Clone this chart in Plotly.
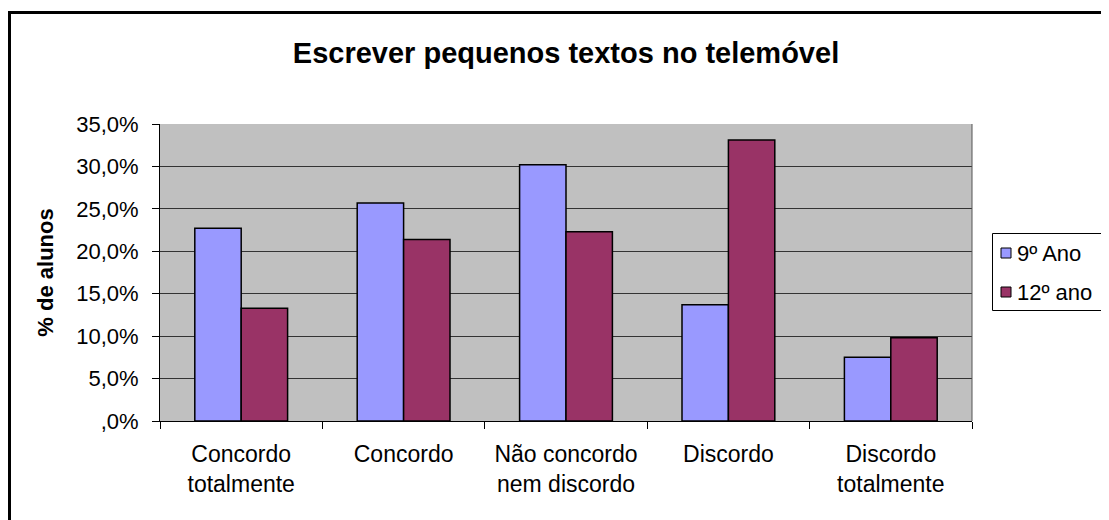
import plotly.graph_objects as go

categories = ["Concordo<br>totalmente", "Concordo", "Não concordo<br>nem discordo", "Discordo", "Discordo<br>totalmente"]
ano9 = [22.7, 25.7, 30.2, 13.7, 7.5]
ano12 = [13.3, 21.4, 22.3, 33.1, 9.8]
series_names = ["9º Ano", "12º ano"]
series_colors = ["#9999FF", "#993366"]
tick_vals = [0, 5, 10, 15, 20, 25, 30, 35]
tick_text = [",0%", "5,0%", "10,0%", "15,0%", "20,0%", "25,0%", "30,0%", "35,0%"]

FONT = "Liberation Sans, Arial, sans-serif"

# the page body has an 8px margin; the figure is sized to fill the rest of the window
OFF = 8
PAGE_W, PAGE_H = 1109, 520
W, H = PAGE_W - OFF, PAGE_H - OFF
# plot area in page pixels: x 160..972, y 124..421
L, T = 160 - OFF, 124 - OFF
R, B = PAGE_W - 972, PAGE_H - 421
pw, ph = W - L - R, H - T - B

def px_to_paper_x(px):
    return (px - OFF - L) / pw

def px_to_paper_y(py):
    return (H - B - (py - OFF)) / ph

fig = go.Figure()
for name, vals, col in zip(series_names, [ano9, ano12], series_colors):
    fig.add_trace(go.Bar(x=categories, y=vals, name=name, showlegend=False,
                         marker=dict(color=col, line=dict(color="#000000", width=1.5))))

fig.update_layout(
    width=W, height=H,
    margin=dict(l=L, r=R, t=T, b=B, autoexpand=False),
    paper_bgcolor="#FFFFFF",
    plot_bgcolor="#C0C0C0",
    barmode="group",
    bargap=0.4286,
    bargroupgap=0,
    font=dict(family=FONT, size=22, color="#000000"),
    title=dict(text="<b>Escrever pequenos textos no telemóvel</b>",
               x=(566 - OFF) / W, xref="container", xanchor="center",
               y=1 - (53 - OFF) / H, yref="container", yanchor="middle",
               font=dict(family=FONT, size=29, color="#000000")),
    showlegend=False,
    xaxis=dict(type="category", showline=True, linecolor="#000000", linewidth=1,
               ticks="outside", ticklen=7, tickcolor="#000000", tickson="boundaries",
               tickfont=dict(family=FONT, size=23), showgrid=False,
               ticklabelstandoff=12),
    yaxis=dict(range=[0, 35], tickvals=tick_vals, ticktext=tick_text,
               showline=True, linecolor="#000000", linewidth=1,
               ticks="outside", ticklen=7, tickcolor="#000000",
               showgrid=True, gridcolor="#333333", gridwidth=1,
               zeroline=False, ticklabelstandoff=9,
               tickfont=dict(family=FONT, size=22),
               title=dict(text="<b>% de alunos</b>", font=dict(family=FONT, size=22), standoff=16)),
)

# plot area right border
fig.add_shape(type="line", xref="paper", yref="paper", x0=1, x1=1, y0=0, y1=1,
              line=dict(color="#555555", width=1))
# outer chart border (extends beyond the visible window on the right and bottom)
fig.add_shape(type="rect", xref="paper", yref="paper",
              x0=px_to_paper_x(9.5), x1=px_to_paper_x(1130),
              y0=px_to_paper_y(540), y1=px_to_paper_y(12.5),
              line=dict(color="#000000", width=3), fillcolor="rgba(0,0,0,0)", layer="above")

# legend box (extends past the right edge of the window, as in the original)
fig.add_shape(type="rect", xref="paper", yref="paper",
              x0=px_to_paper_x(992.5), x1=px_to_paper_x(1125),
              y0=px_to_paper_y(310.5), y1=px_to_paper_y(233.5),
              line=dict(color="#000000", width=1), fillcolor="#FFFFFF", layer="above")
for i, (name, col) in enumerate(zip(series_names, series_colors)):
    cy = 253 + i * 39
    fig.add_shape(type="rect", xref="paper", yref="paper",
                  x0=px_to_paper_x(1001), x1=px_to_paper_x(1011),
                  y0=px_to_paper_y(cy + 5), y1=px_to_paper_y(cy - 5),
                  line=dict(color="#000000", width=1), fillcolor=col, layer="above")
    fig.add_annotation(xref="paper", yref="paper", x=px_to_paper_x(1015), y=px_to_paper_y(cy),
                       xanchor="left", yanchor="middle", text=name, showarrow=False,
                       font=dict(family=FONT, size=22, color="#000000"))

fig.write_html("out.html")
